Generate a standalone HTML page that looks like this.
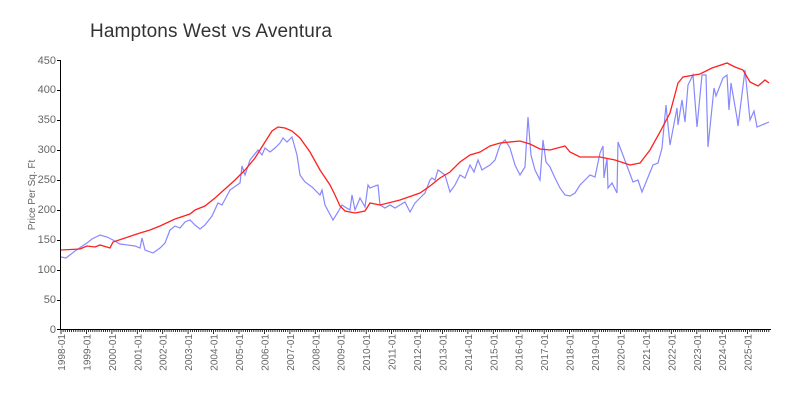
<!DOCTYPE html>
<html><head><style>body{margin:0;background:#fff}svg{display:block}</style></head><body>
<svg width="800" height="400" xmlns="http://www.w3.org/2000/svg" font-family="Liberation Sans, sans-serif">
<text x="90" y="37" font-size="19" fill="#333" textLength="242">Hamptons West vs Aventura</text>
<text transform="translate(35,195) rotate(-90)" text-anchor="middle" font-size="10" fill="#666">Price Per Sq. Ft</text>
<g font-size="11" fill="#666" text-anchor="end">
<text x="56" y="333">0</text><text x="56" y="303">50</text><text x="56" y="273">100</text><text x="56" y="243">150</text><text x="56" y="213">200</text><text x="56" y="183">250</text><text x="56" y="153">300</text><text x="56" y="123">350</text><text x="56" y="93">400</text><text x="56" y="64">450</text>
</g>
<g stroke="#000" stroke-width="1">
<line x1="60.5" y1="60" x2="60.5" y2="330"/>
<line x1="60" y1="329.5" x2="771" y2="329.5"/>
<path d="M57 60.5h4M57 90.5h4M57 120.5h4M57 150.5h4M57 180.5h4M57 210.5h4M57 240.5h4M57 270.5h4M57 300.5h4M57 329.5h4"/>
</g>
<g id="ticks" stroke="#000"></g>
<g id="xl" font-size="10" fill="#666"></g>
<polyline fill="none" stroke="#8888ff" stroke-width="1.2" points="61,257 66,258 75,251 87,243 92,239 100,235 107,237 113,240 120,244 135,246 140,248 142,238 145,250 153,253 160,248 165,243 170,230 175,226 180,228 185,222 190,220 195,225 200,229 205,225 212,216 218,203 222,205 230,190 240,183 242,166 245,175 250,160 258,150 262,155 265,148 270,152 275,148 280,143 283,138 287,142 292,137 297,155 300,175 305,182 312,187 320,195 322,190 325,205 333,220 338,212 342,205 345,207 350,210 352,195 355,210 360,198 365,207 368,185 370,188 375,186 378,185 380,205 385,208 390,205 395,208 400,205 405,202 410,212 415,203 420,198 425,193 430,180 432,178 435,180 438,170 441,172 445,175 450,192 455,185 460,175 465,178 470,165 474,172 478,160 482,170 485,168 490,165 495,160 500,145 505,140 510,148 515,165 520,175 525,167 528,117 531,155 535,170 540,180 543,140 546,162 550,167 555,178 560,188 565,195 570,196 575,193 580,185 585,180 590,175 595,177 600,153 603,146 604,178 607,158 608,188 612,183 617,193 618,142 633,182 638,180 642,192 653,165 658,163 662,148 666,105 670,145 677,108 678,125 682,100 685,122 688,85 693,75 697,127 702,75 706,75 708,147 714,88 716,96 723,78 727,75 729,110 731,83 737,118 738,126 745,70 750,120 754,111 757,127 769,122"/>
<polyline fill="none" stroke="#ff2020" stroke-width="1.3" points="61,250 80,249 87,246 95,247 100,245 110,248 113,242 125,238 140,233 150,230 160,226 175,219 190,214 195,210 205,206 215,198 225,189 235,180 245,170 255,158 265,142 272,131 278,127 285,128 292,131 300,138 310,152 320,170 330,185 335,195 340,206 345,211 355,213 365,211 370,203 380,205 400,200 420,193 430,186 440,178 450,172 460,162 470,155 480,152 490,146 500,143 520,141 530,144 540,149 550,150 565,146 570,152 580,157 600,157 615,160 630,165 640,163 650,150 660,132 670,113 678,83 683,77 700,74 712,68 727,63 735,67 743,70 750,82 758,86 765,80 769,83"/>
<script>
var t=document.getElementById('ticks'),l=document.getElementById('xl'),ns='http://www.w3.org/2000/svg',s='';
for(var m=0;m<=334;m++){var x=61+m*25.43/12;var big=m%12==0;s+='M'+x.toFixed(1)+' 330v'+(big?4:2);}
var p=document.createElementNS(ns,'path');p.setAttribute('d',s);p.setAttribute('stroke-width','0.8');t.appendChild(p);
for(var y=0;y<28;y++){var x=61+y*25.43;var e=document.createElementNS(ns,'text');e.setAttribute('transform','translate('+(x+4)+',334) rotate(-90)');e.setAttribute('text-anchor','end');e.textContent=(1998+y)+'-01';l.appendChild(e);}
</script>
</svg>
</body></html>
